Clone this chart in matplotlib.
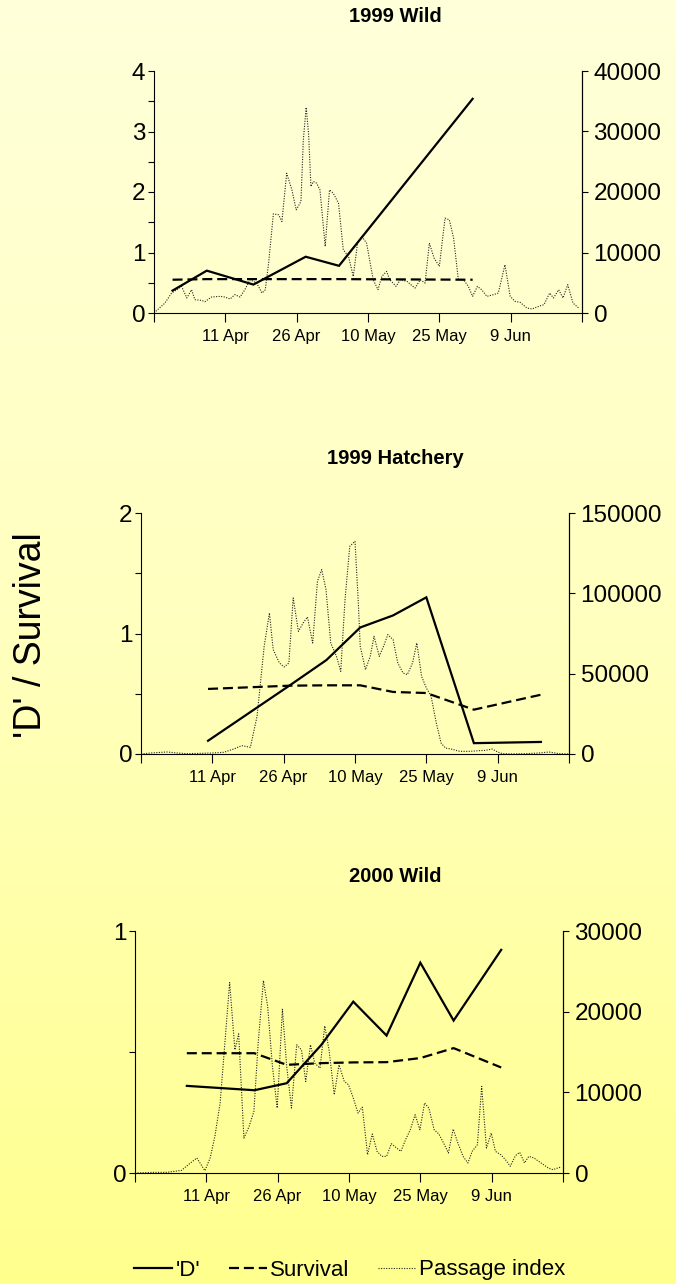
import numpy as np
import matplotlib
matplotlib.use("Agg")
import matplotlib.pyplot as plt
from matplotlib.colors import LinearSegmentedColormap

plt.rcParams['font.family'] = ['Liberation Sans', 'DejaVu Sans']

# x axis: days after 27 Mar, ticks every 15 days
xticks = [0, 15, 30, 45, 60, 75, 90]
xlabels = ['', '11 Apr', '26 Apr', '10 May', '25 May', '9 Jun', '']

# ---- 1999 Wild ----
w99_days = [3.9, 11.1, 20.9, 31.9, 38.9, 67.0]
w99_D = [0.37, 0.70, 0.47, 0.93, 0.78, 3.54]
w99_surv = [0.55, 0.56, 0.56, 0.56, 0.56, 0.55]
w99_pass = [(0, 0), (2.3, 1650), (3.7, 3300), (4.8, 3850), (5.8, 4400), (6.9, 2480),
            (7.9, 3850), (8.6, 2200), (10.0, 2090), (10.7, 1870), (12.1, 2640), (13.9, 2750),
            (14.9, 2640), (16.0, 2310), (17.0, 3030), (18.1, 2640), (19.1, 3850), (20.2, 5500),
            (21.6, 4950), (22.7, 3300), (23.4, 3850), (24.1, 8250), (25.1, 16390), (26.2, 16230),
            (26.9, 15130), (27.9, 23100), (29.0, 20350), (29.9, 17050), (30.9, 18430), (31.4, 28600),
            (32.0, 33990), (32.5, 29700), (33.0, 20900), (33.5, 21730), (34.2, 21450), (34.9, 20350),
            (36.0, 11000), (36.9, 20350), (37.7, 19800), (38.8, 18150), (39.8, 10450), (40.9, 9350),
            (41.9, 6050), (42.8, 11550), (43.7, 12650), (44.7, 11550), (46.1, 5500), (47.1, 3850),
            (47.9, 6050), (48.9, 6880), (49.6, 5500), (50.9, 4400), (51.8, 5500), (53.2, 5230),
            (54.0, 4680), (54.9, 4130), (56.0, 5500), (57.0, 4950), (57.9, 11550), (58.9, 9080),
            (60.0, 7700), (61.2, 15680), (62.1, 15400), (63.0, 12380), (64.0, 5500), (65.1, 5500),
            (66.1, 4400), (67.0, 2750), (68.0, 4400), (68.9, 3850), (70.0, 2750), (71.4, 3030),
            (72.4, 3300), (73.8, 7980), (74.9, 2750), (75.9, 1930), (77.0, 1760), (78.4, 830),
            (79.5, 660), (80.9, 1100), (82.0, 1380), (83.2, 3300), (84.0, 2480), (85.1, 3850),
            (86.0, 2480), (87.0, 4680), (88.1, 1650), (89.3, 830)]

# ---- 1999 Hatchery ----
h99_days = [14.1, 31.3, 39.0, 46.1, 53.0, 60.0, 70.0, 84.1]
h99_D = [0.11, 0.57, 0.78, 1.05, 1.15, 1.30, 0.09, 0.10]
h99_surv = [0.54, 0.567, 0.57, 0.57, 0.515, 0.506, 0.368, 0.492]
h99_pass = [(0, 0), (2.0, 620), (5.5, 1250), (7.6, 620), (9.7, 210), (12.5, 420),
            (14.9, 620), (17.4, 1040), (19.5, 3110), (21.2, 5190), (23.0, 4150), (24.4, 23450),
            (25.9, 67020), (27.0, 87770), (27.8, 64950), (29.1, 56650), (30.1, 54160), (31.1, 56650),
            (32.0, 97110), (33.1, 76360), (34.1, 81550), (35.0, 85280), (36.1, 69100), (37.1, 107490),
            (38.0, 114750), (38.9, 102300), (39.9, 69100), (41.1, 60800), (42.0, 51460), (42.9, 96070),
            (43.9, 129270), (45.0, 132390), (45.7, 94000), (46.1, 67020), (47.2, 52500), (48.2, 60800),
            (49.0, 73250), (50.1, 60800), (51.0, 67020), (51.9, 74290), (53.0, 71170), (54.0, 56650),
            (55.1, 50420), (56.0, 49390), (57.1, 56650), (58.0, 69100), (59.0, 48350), (60.0, 41090),
            (61.0, 35900), (62.1, 19300), (63.1, 6850), (64.0, 3740), (65.2, 3110), (67.0, 1660),
            (69.1, 1660), (71.1, 2080), (72.5, 2280), (73.8, 3110), (75.0, 1250), (76.0, 210),
            (78.1, 0), (80.9, 210), (83.7, 620), (85.8, 1250), (87.9, 210), (90.0, 0)]

# ---- 2000 Wild ----
w00_days = [10.9, 25.1, 31.9, 39.2, 45.9, 52.9, 60.0, 67.0, 77.0]
w00_D = [0.36, 0.342, 0.371, 0.53, 0.708, 0.568, 0.869, 0.63, 0.922]
w00_surv = [0.495, 0.495, 0.447, 0.454, 0.457, 0.458, 0.475, 0.516, 0.436]
w00_pass = [(0, 0), (3.9, 80), (6.7, 80), (9.8, 330), (11.2, 1030), (13.0, 1860),
            (14.7, 290), (15.8, 1860), (16.8, 4540), (17.9, 8670), (18.9, 16100), (19.9, 23610),
            (21.0, 15270), (21.8, 17250), (22.9, 4330), (24.0, 5780), (25.0, 7630), (25.9, 16100),
            (27.0, 23850), (27.9, 20630), (28.9, 13210), (29.9, 8050), (31.0, 20300), (31.9, 13210),
            (32.9, 8050), (34.0, 15890), (35.0, 15270), (35.9, 11350), (36.9, 15890), (37.8, 13620),
            (38.9, 13000), (39.9, 18240), (40.8, 15270), (41.9, 9700), (42.9, 13410), (44.0, 11350),
            (44.9, 10940), (45.9, 9290), (46.9, 7430), (47.8, 8170), (48.9, 2270), (49.9, 4830),
            (50.9, 2680), (51.9, 2060), (52.9, 2060), (53.9, 3630), (55.0, 3100), (55.9, 2680),
            (56.9, 4130), (57.9, 5370), (58.9, 7220), (59.9, 5370), (60.9, 8670), (61.8, 8050),
            (62.9, 5370), (63.9, 4830), (64.9, 3710), (65.9, 2480), (66.9, 5450), (67.9, 3710),
            (69.0, 2060), (70.0, 1240), (70.9, 2680), (72.0, 3510), (72.9, 10730), (73.9, 3100),
            (74.9, 4950), (75.8, 2680), (76.9, 2270), (77.9, 1650), (78.9, 830), (80.0, 2150),
            (80.9, 2560), (81.9, 1240), (82.8, 2060), (83.9, 1860), (84.9, 1440), (85.9, 1030),
            (86.9, 620), (87.9, 410), (88.9, 620), (89.6, 740)]

panels = [
    ('1999 Wild', w99_days, w99_D, w99_surv, w99_pass, 4, 40000),
    ('1999 Hatchery', h99_days, h99_D, h99_surv, h99_pass, 2, 150000),
    ('2000 Wild', w00_days, w00_D, w00_surv, w00_pass, 1, 30000),
]
# pixel boxes (left, top, right, bottom) and title centre y
boxes = [(154, 71, 582, 313), (141, 513, 569, 754), (135, 931, 563, 1173)]
title_y = [16, 458, 877]

W, H = 676, 1284
fig = plt.figure(figsize=(W / 100, H / 100), dpi=100)

# yellow gradient background
bg = fig.add_axes([0, 0, 1, 1], zorder=-10)
cmap = LinearSegmentedColormap.from_list('bg', ['#FFFFDA', '#FFFFBE', '#FFFF8E'])
bg.imshow(np.linspace(0, 1, 256).reshape(-1, 1), aspect='auto', cmap=cmap,
          extent=[0, 1, 0, 1])
bg.axis('off')

lines = None
for (title, days, D, surv, pas, ymax, rmax), (l, t, r, b), ty in zip(panels, boxes, title_y):
    ax = fig.add_axes([l / W, 1 - b / H, (r - l) / W, (b - t) / H])
    ax2 = ax.twinx()
    ax.set_zorder(ax2.get_zorder() + 1)
    ax.patch.set_visible(False)
    ax2.patch.set_visible(False)

    pd_, pv_ = zip(*pas)
    l3, = ax2.plot(pd_, pv_, color='#222222', lw=0.8, linestyle=(0, (1, 1.3)))
    l1, = ax.plot(days, D, color='black', lw=1.6, solid_joinstyle='miter')
    l2, = ax.plot(days, surv, color='black', lw=1.6, linestyle=(0, (4.5, 2.2)))
    if lines is None:
        lines = [l1, l2, l3]

    ax.set_xlim(0, 90)
    ax.set_ylim(0, ymax)
    ax2.set_ylim(0, rmax)
    ax.set_xticks(xticks)
    ax.set_xticklabels(xlabels, fontsize=12)
    ax.set_yticks(range(0, ymax + 1))
    ax.set_yticks(np.arange(0.5, ymax, 1.0), minor=True)
    ax.set_yticklabels([str(v) for v in range(0, ymax + 1)], fontsize=17.5)
    ax2.set_yticks(np.arange(0, rmax + 1, 10000 if rmax < 100000 else 50000))
    ax2.set_yticklabels([str(int(v)) for v in ax2.get_yticks()], fontsize=17.5)

    ax.tick_params(axis='x', direction='out', length=6.5, width=0.8, pad=5)
    ax.tick_params(axis='y', which='both', direction='out', length=4.3, width=0.8, pad=2)
    ax2.tick_params(axis='y', direction='out', length=4.3, width=0.8, pad=4)

    for a in (ax, ax2):
        a.spines['top'].set_visible(False)
        for s in a.spines.values():
            s.set_linewidth(0.8)
    ax2.spines['left'].set_visible(False)
    ax2.spines['bottom'].set_visible(False)

    fig.text(395 / W, 1 - ty / H, title, ha='center', va='center',
             fontsize=14.5, fontweight='bold')

fig.text(31 / W, 1 - 635 / H, "'D' / Survival", rotation=90, fontsize=27,
         ha='center', va='center')

fig.legend(lines, ["'D'", 'Survival', 'Passage index'], loc='center',
           bbox_to_anchor=(350 / W, 1 - 1270 / H), ncol=3, frameon=False,
           fontsize=16, handlelength=1.7, handletextpad=0.15, columnspacing=1.3)

fig.savefig('out.png', dpi=100)
